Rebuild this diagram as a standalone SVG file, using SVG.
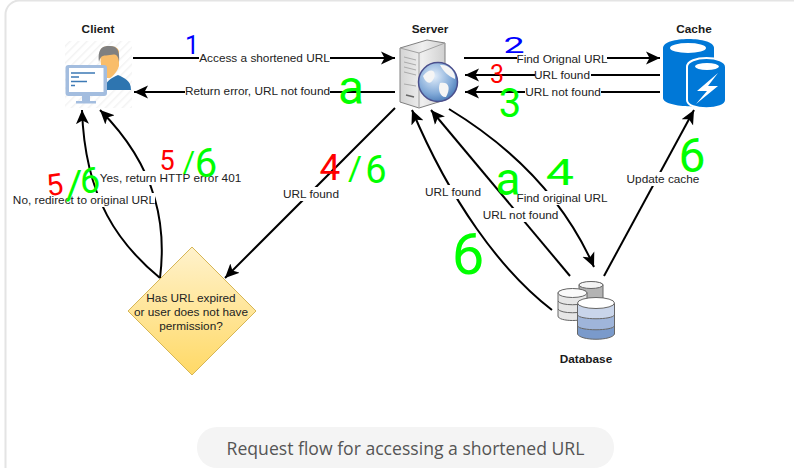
<svg xmlns="http://www.w3.org/2000/svg" width="794" height="468" viewBox="0 0 794 468">
<style>
.t{font-family:"Liberation Sans",Arial,sans-serif;font-size:11.800px;fill:#222;text-anchor:middle}
.n{font-weight:bold;fill:#1a1a1a}
.c{fill:none;stroke:#000;stroke-width:2;marker-end:url(#a)}
.b{fill:#fff}
.h{font-family:"Roboto",sans-serif;font-weight:400;text-anchor:middle}
.g{fill:#0f0}.r{fill:#f00}.u{fill:#00f}
</style>
<defs>
<marker id="a" markerUnits="userSpaceOnUse" markerWidth="16" markerHeight="14" refX="14" refY="7" orient="auto"><path d="M0,0.5 L14,7 L0,13.500 L3.500,7 Z" fill="#000"/></marker>
<linearGradient id="d" x1="0" y1="0" x2="0" y2="1"><stop offset="0" stop-color="#fff2cc"/><stop offset="1" stop-color="#ffd966"/></linearGradient>
<linearGradient id="s" x1="0" y1="0" x2="1" y2="0"><stop offset="0" stop-color="#d4d4d4"/><stop offset=".5" stop-color="#efefef"/><stop offset="1" stop-color="#d0d0d0"/></linearGradient>
<radialGradient id="w" cx=".4" cy=".35" r=".75"><stop offset="0" stop-color="#e3eefa"/><stop offset=".6" stop-color="#82aad8"/><stop offset="1" stop-color="#3d6fae"/></radialGradient>
<pattern id="p" width="6" height="6" patternUnits="userSpaceOnUse" patternTransform="rotate(-45)"><rect width="6" height="6" fill="#fff"/><rect width="6" height="1.500" fill="#f3f3f3"/></pattern>
</defs>
<rect width="794" height="468" fill="#fff"/>
<rect x="5.500" y="0.500" width="900" height="600" rx="14" fill="#fff" stroke="#e4e4e4" stroke-width="2"/>
<g id="connectors">
<path class="c" d="M133,58 H395"/>
<path class="c" d="M395,92 H134"/>
<path class="c" d="M395,108 L225,278"/>
<path class="c" d="M160,278 C120,245 85,200 82,110"/>
<path class="c" d="M160,278 C166,230 160,170 100,110"/>
<path class="c" d="M464,58 H660"/>
<path class="c" d="M660,75 H465"/>
<path class="c" d="M660,92 H465"/>
<path class="c" d="M449,109 C500,140 560,190 594,267"/>
<path class="c" d="M570,276 L431,110"/>
<path class="c" d="M552,310 C500,270 450,200 412,110"/>
<path class="c" d="M604,276 L694,110"/>
<g class="b">
<rect x="199" y="51" width="131" height="14"/><rect x="185" y="85" width="145" height="14"/>
<rect x="100" y="171" width="141" height="14"/><rect x="13" y="193" width="142" height="14"/>
<rect x="283" y="187" width="56" height="14"/><rect x="517" y="51" width="90" height="14"/>
<rect x="535" y="68" width="56" height="14"/><rect x="525" y="85" width="76" height="14"/>
<rect x="425" y="185" width="56" height="14"/><rect x="517" y="191" width="90" height="14"/>
<rect x="483" y="208" width="75" height="14"/><rect x="627" y="172" width="72" height="14"/>
</g>
<text class="t" x="264.500" y="62">Access a shortened URL</text>
<text class="t" x="257.500" y="95">Return error, URL not found</text>
<text class="t" x="170.500" y="182">Yes, return HTTP error 401</text>
<text class="t" x="84" y="204">No, redirect to original URL</text>
<text class="t" x="311" y="198">URL found</text>
<text class="t" x="562" y="63">Find Orignal URL</text>
<text class="t" x="562" y="79">URL found</text>
<text class="t" x="563" y="96">URL not found</text>
<text class="t" x="453" y="196">URL found</text>
<text class="t" x="562" y="202">Find original URL</text>
<text class="t" x="520.500" y="219">URL not found</text>
<text class="t" x="663" y="183">Update cache</text>
</g>
<g id="client">
<text class="t n" x="98" y="33">Client</text>
<rect x="65" y="41" width="67" height="67" fill="url(#p)"/>
<path d="M105,90 C105,80 112,78 118,75 C124,78 131,80 131,90 Z" fill="#2e75b0"/>
<path d="M100,52 C100,44 119,44 119,52 V66 C117,72 113,76 110,78 H102 Z" fill="#f9bd6a"/>
<path d="M99,62 C97,46 105,46 110,46 C117,46 120,50 119,62 C118,54 115,54 110,55 C104,56 101,54 99,62 Z" fill="#808080"/>
<rect x="65.500" y="65" width="41.500" height="31" rx="3" fill="#a3bddf"/>
<rect x="69" y="68" width="34.500" height="24" fill="#fff"/>
<path d="M71,73 H95 M71,77 H79 M71,81.500 H87 M71,85.500 H75" stroke="#3d7ab5" stroke-width="1.500"/>
<path d="M82,96 H90 V101 H96 V103.500 H76 V101 H82 Z" fill="#a3bddf"/>
</g>
<g id="server">
<text class="t n" x="430" y="33">Server</text>
<path d="M400,48 L427,40 L445,43 V100 L419,108 L400,102 Z" fill="url(#s)" stroke="#808080"/>
<path d="M400,48 L419,53 L445,43 M419,53 V108" fill="none" stroke="#a0a0a0"/>
<path d="M404,57 L416,60 M404,62 L416,65 M404,67 L416,70 M404,72 L416,75 M404,84 L416,86" stroke="#aaa" stroke-width="1"/>
<path d="M406,95 L414,97" stroke="#666" stroke-width="1.500"/>
<circle cx="438" cy="82" r="19.500" fill="url(#w)" stroke="#4b4f8c" stroke-width="1.500"/>
<path d="M423,76 C430,67 437,70 434,78 C431,85 426,84 423,76 Z M440,65 C449,64 456,72 455,79 C448,76 444,72 440,65 Z M440,83 C449,81 451,88 446,97 C441,98 437,90 440,83 Z" fill="#f5f5f5"/>
</g>
<g id="cache">
<text class="t n" x="694" y="33">Cache</text>
<path d="M663,48 C663,36 714,36 714,48 V98 C714,110 663,108 663,98 Z" fill="#0078d7"/>
<ellipse cx="688" cy="48" rx="18" ry="5" fill="#fff"/>
<path d="M687,67 C687,55 726,55 726,67 V100 C726,111 687,111 687,100 Z" fill="#0078d7" stroke="#fff" stroke-width="2"/>
<ellipse cx="707" cy="66.500" rx="12" ry="3.500" fill="#fff"/>
<polygon points="718,73 697,91 707,91 696,104 718,86 708,86" fill="#fff"/>
</g>
<g id="database">
<text class="t n" x="586" y="363">Database</text>
<path d="M579,285 C579,281 603,281 603,285 V300 H579 Z" fill="#b3b3b3" stroke="#666"/>
<ellipse cx="591" cy="285" rx="12" ry="3.500" fill="#f4f4f4" stroke="#666"/>
<path d="M558,293 C558,288 587,288 587,293 V316 C587,322 558,322 558,316 Z" fill="#e6e6e6" stroke="#666"/>
<ellipse cx="572.500" cy="293" rx="14.500" ry="4.500" fill="#fafafa" stroke="#666"/>
<path d="M558,301 C560,306 585,306 587,301 M558,309 C560,314 585,314 587,309" fill="none" stroke="#666"/>
<path d="M577.500,303 V315 C580,320 612,320 614.500,315 V303 Z" fill="#c9d5ea"/>
<path d="M577.500,315 V326 C580,331 612,331 614.500,326 V315 C612,320 580,320 577.500,315 Z" fill="#9fb5da"/>
<path d="M577.500,326 V334 C580,341 612,341 614.500,334 V326 C612,331 580,331 577.500,326 Z" fill="#7a9acb"/>
<path d="M577.500,303 V334 C580,341 612,341 614.500,334 V303 M577.500,315 C580,320 612,320 614.500,315 M577.500,326 C580,331 612,331 614.500,326" fill="none" stroke="#666"/>
<ellipse cx="596" cy="303" rx="18.500" ry="5.500" fill="#fff" stroke="#666"/>
</g>
<g id="decision">
<polygon points="192,247 256,311 192,375 128,311" fill="url(#d)" stroke="#d6b656"/>
<text class="t" x="191" y="302">Has URL expired</text>
<text class="t" x="191" y="316">or user does not have</text>
<text class="t" x="191" y="330">permission?</text>
</g>
<g id="caption">
<rect x="197" y="427" width="417" height="41" rx="20" fill="#f4f4f4"/>
<text x="405.500" y="455" text-anchor="middle" font-family="'Open Sans',sans-serif" font-size="17.600" fill="#555">Request flow for accessing a shortened URL</text>
</g>
<g id="annotations">
<text class="h u" font-size="25" x="192" y="54" font-weight="700">1</text>
<text class="h u" font-size="22" font-weight="700" transform="translate(514,53) scale(1.700,1)">2</text>
<text class="h r" font-size="25" font-weight="700" x="497" y="83">3</text>
<text class="h g" font-size="40" font-weight="500" x="510" y="117">3</text>
<text class="h g" font-size="48" x="351" y="104">a</text>
<text class="h g" font-size="36" font-weight="500" transform="translate(560,185) scale(1.400,1)">4</text>
<text class="h g" font-size="46" x="508" y="195">a</text>
<text class="h g" font-size="58" x="468" y="274">6</text>
<text class="h g" font-size="48" x="692" y="172">6</text>
<text class="h r" font-size="27" font-weight="700" x="167" y="170">5</text>
<text class="h g" font-size="30" font-weight="500" x="189" y="172">/</text>
<text class="h g" font-size="40" x="206" y="177">6</text>
<text class="h r" font-size="37" font-weight="700" x="330" y="180">4</text>
<text class="h g" font-size="34" font-weight="500" x="355" y="180">/</text>
<text class="h g" font-size="38" x="376" y="183">6</text>
<text class="h r" font-size="30" font-weight="700" transform="translate(56,195) rotate(-8)">5</text>
<text class="h g" font-size="40" font-weight="500" x="74" y="199">/</text>
<text class="h g" font-size="36" x="90" y="193">6</text>
</g>
</svg>
